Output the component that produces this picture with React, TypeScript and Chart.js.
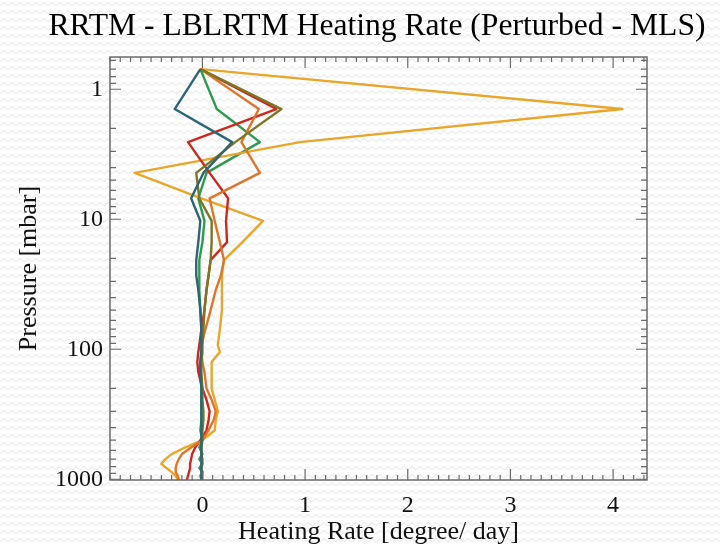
import { useEffect, useRef } from 'react';
import { Chart, registerables } from 'chart.js';

Chart.register(...registerables);

// Pressure levels (mbar), shared by every profile
const PRESSURE = [
  0.7, 1.42, 2.55, 4.4, 6.9, 10.3, 15, 20.6, 27, 35, 50, 70, 93, 105, 125, 150,
  200, 245, 300, 350, 420, 500, 570, 640, 700, 760, 820, 880, 940, 1000, 1013,
];

// Heating-rate differences (degree/day) at each pressure level
const PROFILE_TEAL = [
  -0.02, -0.27, 0.29, 0.01, -0.11, -0.02, -0.04, -0.06, -0.06, -0.04, -0.02, -0.01, -0.01, -0.01, -0.02, -0.02,
  -0.01, -0.01, -0.01, -0.01, -0.01, -0.01, -0.01, -0.01, -0.01, -0.01, -0.01, -0.01, -0.01, -0.01, -0.01,
];
const PROFILE_OLIVE = [
  -0.02, 0.77, 0.32, -0.06, -0.03, 0.09, 0.09, 0.08, 0.06, 0.04, 0.02, 0.01, 0.0, 0.0, -0.01, -0.01,
  0.0, 0.0, 0.01, 0.01, 0.0, 0.0, -0.01, -0.01, 0.0, 0.0, -0.01, 0.0, 0.0, 0.0, 0.0,
];
const PROFILE_ORANGE = [
  -0.02, 0.55, 0.38, 0.56, 0.07, 0.12, 0.17, 0.21, 0.18, 0.13, 0.08, 0.03, -0.01, -0.01, 0.0, 0.02,
  0.04, 0.09, 0.13, 0.11, 0.06, 0.0, -0.11, -0.2, -0.23, -0.25, -0.26, -0.26, -0.24, -0.23, -0.22,
];
const PROFILE_RED = [
  -0.02, 0.72, -0.14, 0.07, 0.25, 0.23, 0.24, 0.08, 0.06, 0.04, 0.02, -0.01, -0.03, -0.04, -0.05, -0.04,
  0.0, 0.04, 0.07, 0.06, 0.04, -0.02, -0.07, -0.1, -0.11, -0.12, -0.12, -0.13, -0.14, -0.15, -0.15,
];
const PROFILE_GOLD = [
  -0.02, 4.09, 0.95, -0.66, -0.01, 0.59, 0.39, 0.21, 0.19, 0.19, 0.19, 0.17, 0.15, 0.17, 0.09, 0.09,
  0.09, 0.12, 0.15, 0.13, 0.12, 0.0, -0.17, -0.3, -0.36, -0.4, -0.35, -0.3, -0.26, -0.24, -0.24,
];
const PROFILE_GREEN = [
  -0.02, 0.14, 0.56, 0.04, -0.04, 0.02, 0.0, -0.03, -0.03, -0.03, -0.02, -0.01, -0.01, -0.01, -0.02, -0.02,
  -0.01, -0.01, -0.01, -0.01, -0.02, 0.0, -0.03, 0.0, -0.03, 0.0, -0.03, 0.0, -0.02, -0.01, -0.01,
];

const X_TICKS = [0, 1, 2, 3, 4];
const Y_TICKS = [1, 10, 100, 1000];

const TITLE = 'RRTM - LBLRTM Heating Rate (Perturbed - MLS)';
const X_TITLE = 'Heating Rate [degree/ day]';
const Y_TITLE = 'Pressure [mbar]';

const X_MIN = -0.9;
const X_MAX = 4.33;
const P_TOP = 0.565;
const P_BOTTOM = 1013;

const SERIF = '"Liberation Serif", "Times New Roman", serif';
const AXIS_COLOR = '#6a6a6a';

const SERIES = [
  { values: PROFILE_TEAL, color: '#2c6672' },
  { values: PROFILE_OLIVE, color: '#7d7626' },
  { values: PROFILE_ORANGE, color: '#dc762c' },
  { values: PROFILE_RED, color: '#c9291f' },
  { values: PROFILE_GOLD, color: '#e8a62a' },
  { values: PROFILE_GREEN, color: '#2f9a4f' },
];

// Box frame with inward-pointing major/minor ticks on all four sides
const frameTicks = {
  id: 'frameTicks',
  afterDatasetsDraw(chart: any) {
    const { ctx, chartArea, scales } = chart;
    const { left, right, top, bottom } = chartArea;
    const xs = scales.x;
    const ys = scales.y;
    ctx.save();
    ctx.strokeStyle = AXIS_COLOR;
    ctx.lineWidth = 1.2;
    ctx.beginPath();
    for (let i = Math.ceil(X_MIN * 10); i <= Math.floor(X_MAX * 10); i++) {
      const px = xs.getPixelForValue(i / 10);
      const len = i % 10 === 0 ? 11 : 5;
      ctx.moveTo(px, bottom);
      ctx.lineTo(px, bottom - len);
      ctx.moveTo(px, top);
      ctx.lineTo(px, top + len);
    }
    for (let e = -1; e <= 3; e++) {
      const d = Math.pow(10, e);
      for (let m = 1; m <= 9; m++) {
        const v = m * d;
        if (v < P_TOP || v > P_BOTTOM) continue;
        const py = ys.getPixelForValue(v);
        const len = m === 1 ? 11 : 6;
        ctx.moveTo(left, py);
        ctx.lineTo(left + len, py);
        ctx.moveTo(right, py);
        ctx.lineTo(right - len, py);
      }
    }
    ctx.stroke();
    ctx.lineWidth = 1.5;
    ctx.strokeRect(left, top, right - left, bottom - top);
    ctx.restore();
  },
};

const PATTERN =
  "url(\"data:image/svg+xml,%3Csvg xmlns='http://www.w3.org/2000/svg' width='8' height='8'%3E%3Cpath d='M0 6 L4 2.5 L8 6' fill='none' stroke='%23ececec' stroke-width='1.1'/%3E%3C/svg%3E\")";

export default function App() {
  const canvasRef = useRef<HTMLCanvasElement | null>(null);

  useEffect(() => {
    if (!canvasRef.current) return;
    const chart = new Chart(canvasRef.current, {
      type: 'scatter',
      data: {
        datasets: SERIES.map((s) => ({
          data: PRESSURE.map((p, i) => ({ x: s.values[i], y: p })),
          borderColor: s.color,
          backgroundColor: s.color,
          borderWidth: 2.4,
          borderJoinStyle: 'round',
          showLine: true,
          pointRadius: 0,
          pointHoverRadius: 0,
          tension: 0,
          fill: false,
        })),
      },
      options: {
        responsive: false,
        animation: false,
        devicePixelRatio: 1,
        events: [],
        layout: { padding: { left: 34, right: 0, top: 0, bottom: 0 } },
        plugins: {
          legend: { display: false },
          tooltip: { enabled: false },
          title: {
            display: true,
            text: TITLE,
            color: '#000',
            font: { family: SERIF, size: 31.6, weight: 'normal', lineHeight: 1.2 },
            padding: { top: 8, bottom: 11.1 },
          },
        },
        scales: {
          x: {
            type: 'linear',
            position: 'bottom',
            min: X_MIN,
            max: X_MAX,
            grid: { display: false, drawTicks: false },
            border: { display: false },
            afterBuildTicks: (scale: any) => {
              scale.ticks = X_TICKS.map((v) => ({ value: v }));
            },
            ticks: {
              autoSkip: false,
              maxRotation: 0,
              padding: 11,
              color: '#111',
              font: { family: SERIF, size: 24 },
              callback: (v: any) => String(v),
            },
            title: {
              display: true,
              text: X_TITLE,
              color: '#111',
              font: { family: SERIF, size: 26, lineHeight: 1.0 },
              padding: { top: 0, bottom: 0 },
            },
            afterFit: (scale: any) => {
              scale.height = 65;
            },
          },
          y: {
            type: 'logarithmic',
            position: 'left',
            reverse: true,
            min: P_TOP,
            max: P_BOTTOM,
            grid: { display: false, drawTicks: false },
            border: { display: false },
            afterBuildTicks: (scale: any) => {
              scale.ticks = Y_TICKS.map((v) => ({ value: v }));
            },
            ticks: {
              autoSkip: false,
              padding: 7,
              color: '#111',
              font: { family: SERIF, size: 24 },
              callback: (v: any) => String(v),
            },
            title: {
              display: true,
              text: Y_TITLE,
              color: '#111',
              font: { family: SERIF, size: 26, lineHeight: 1.2 },
              padding: { top: -20, bottom: 0 },
            },
            afterFit: (scale: any) => {
              scale.width = 76;
            },
          },
          yRight: {
            type: 'linear',
            position: 'right',
            grid: { display: false, drawTicks: false },
            border: { display: false },
            ticks: { display: false },
            afterFit: (scale: any) => {
              scale.width = 73;
            },
          },
        },
      },
      plugins: [frameTicks],
    } as any);
    return () => chart.destroy();
  }, []);

  return (
    <div
      style={{
        position: 'fixed',
        left: 0,
        top: 0,
        width: 720,
        height: 545,
        backgroundColor: '#fff',
        backgroundImage: PATTERN,
      }}
    >
      <canvas ref={canvasRef} width={720} height={545} style={{ display: 'block' }} />
    </div>
  );
}
